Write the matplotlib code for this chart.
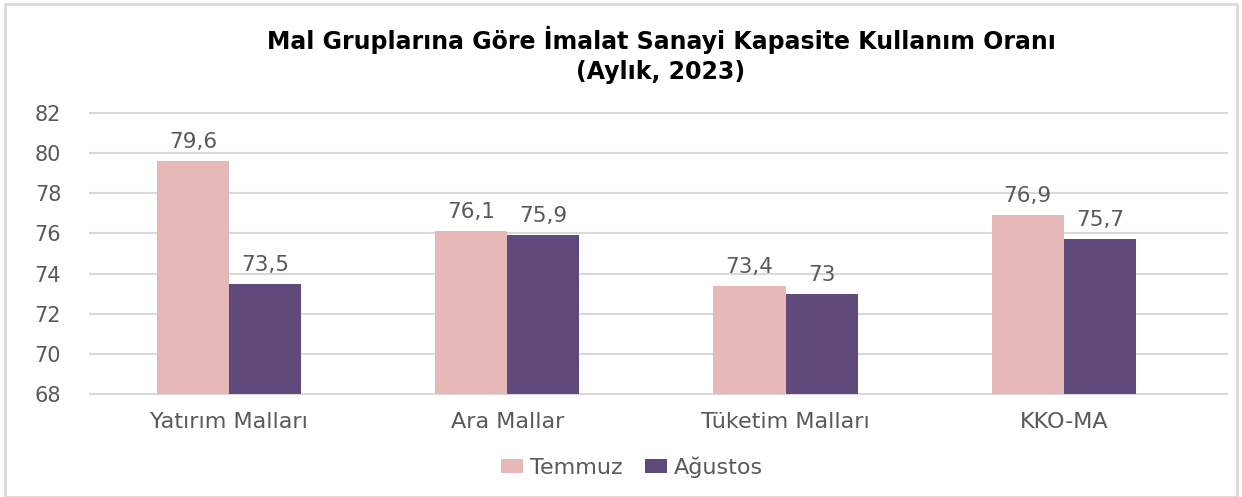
import matplotlib.pyplot as plt
from matplotlib.patches import Rectangle
import numpy as np

categories = ['Yatırım Malları', 'Ara Mallar', 'Tüketim Malları', 'KKO-MA']
temmuz = [79.6, 76.1, 73.4, 76.9]
agustos = [73.5, 75.9, 73.0, 75.7]
labels_temmuz = ['79,6', '76,1', '73,4', '76,9']
labels_agustos = ['73,5', '75,9', '73', '75,7']
yticks = [68, 70, 72, 74, 76, 78, 80, 82]

pink = '#E6B9B8'
purple = '#604A7B'
gray = '#595959'

plt.rcParams['font.family'] = 'DejaVu Sans'

fig = plt.figure(figsize=(12.42, 4.97), dpi=100)
ax = fig.add_axes([89 / 1242, 1 - 395 / 497, (1228 - 89) / 1242, (395 - 112) / 497])

x = np.arange(len(categories))
w = 0.259
b1 = ax.bar(x - w / 2, np.array(temmuz) - 68, w, bottom=68, color=pink, label='Temmuz', zorder=3)
b2 = ax.bar(x + w / 2, np.array(agustos) - 68, w, bottom=68, color=purple, label='Ağustos', zorder=3)

for xi, v, t in zip(x - w / 2, temmuz, labels_temmuz):
    ax.text(xi, v + 0.45, t, ha='center', va='bottom', fontsize=15.5, color=gray)
for xi, v, t in zip(x + w / 2, agustos, labels_agustos):
    ax.text(xi, v + 0.45, t, ha='center', va='bottom', fontsize=15.5, color=gray)

ax.set_ylim(67.95, 82.05)
ax.set_xlim(-0.503, 3.59)
ax.set_yticks(yticks)
ax.set_yticklabels([str(t) for t in yticks], fontsize=15, color=gray)
ax.set_xticks(x)
ax.set_xticklabels(categories, fontsize=16, color=gray)
ax.tick_params(length=0, pad=20)
ax.tick_params(axis='x', pad=12)
ax.grid(axis='y', color='#D9D9D9', linewidth=1.5, zorder=0)
for s in ax.spines.values():
    s.set_visible(False)

fig.text(661 / 1242, 1 - 40 / 497, 'Mal Gruplarına Göre İmalat Sanayi Kapasite Kullanım Oranı',
         ha='center', va='center', fontsize=17, fontweight='bold', color='black')
fig.text(661 / 1242, 1 - 72 / 497, '(Aylık, 2023)',
         ha='center', va='center', fontsize=17, fontweight='bold', color='black')

leg = fig.legend(handles=[b1, b2], loc='center', bbox_to_anchor=(632 / 1242, 1 - 467 / 497),
                 ncol=2, frameon=False, prop={'size': 16},
                 handlelength=1.0, handleheight=0.6, handletextpad=0.3, columnspacing=1.0)
for t in leg.get_texts():
    t.set_color(gray)

fig.patches.append(Rectangle((5 / 1242, 0), 1232 / 1242, 1 - 4 / 497, transform=fig.transFigure,
                             fill=False, edgecolor='#D9D9D9', linewidth=2))

fig.savefig('out.png', dpi=100)
